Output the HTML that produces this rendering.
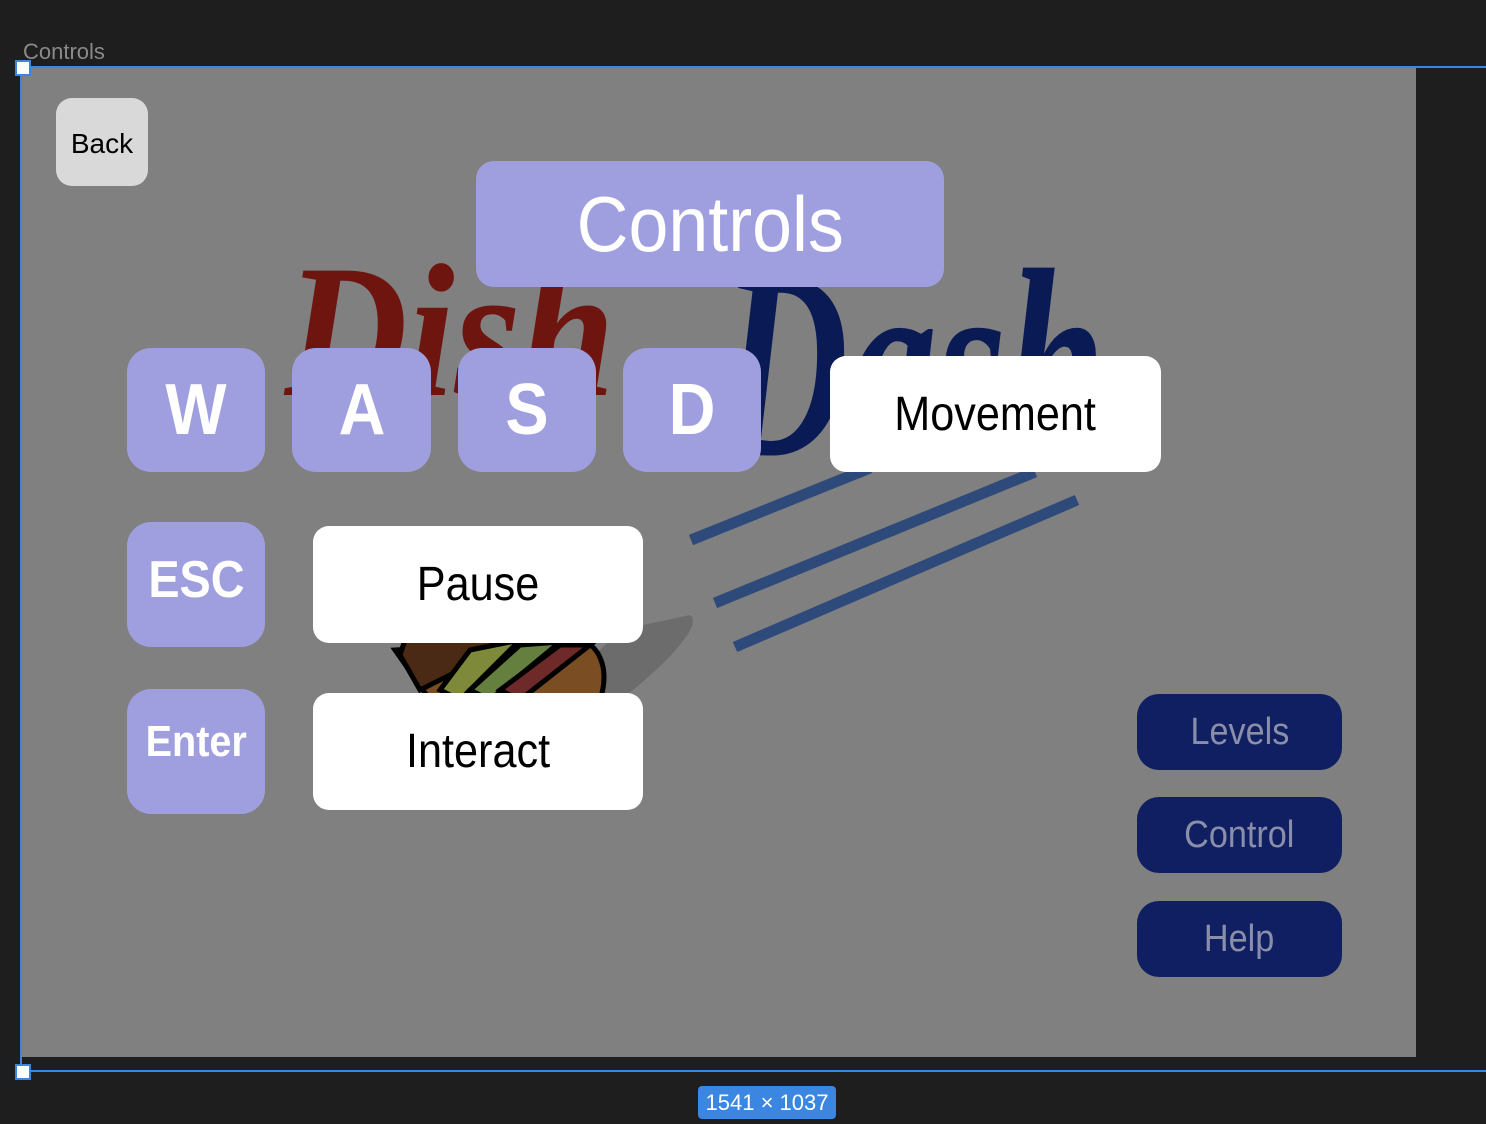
<!DOCTYPE html>
<html><head><meta charset="utf-8"><style>
*{margin:0;padding:0;box-sizing:border-box}
body{width:1486px;height:1124px;background:#1e1e1e;position:relative;overflow:hidden;font-family:"Liberation Sans",sans-serif}
.a{position:absolute}
.c{display:flex;align-items:center;justify-content:center}
.key{background:#9f9fe0;border-radius:24px;color:#fff;font-weight:bold}
.key span,.wb span,.nb span{display:inline-block;transform:scaleX(0.9)}
.wb{background:#fff;border-radius:16px;color:#000;font-size:48px}
.nb{background:#0f1f62;border-radius:22px;color:#8a8ea8;font-size:38px;left:1137px;width:205px;height:76px}
</style></head><body>
<div class="a" style="left:23px;top:39px;font-size:22px;color:#8a8a8a">Controls</div>
<div class="a" style="left:22px;top:68px;width:1394px;height:989px;background:#808080"></div>
<div class="a" style="left:22px;top:66px;width:1464px;height:2px;background:#3b86e0"></div>
<div class="a" style="left:22px;top:1070px;width:1464px;height:2px;background:#3b86e0"></div>
<div class="a" style="left:20px;top:66px;width:2px;height:1006px;background:#3b86e0"></div>
<div class="a" style="left:15px;top:60px;width:16px;height:16px;background:#fff;border:2px solid #3b86e0"></div>
<div class="a" style="left:15px;top:1064px;width:16px;height:16px;background:#fff;border:2px solid #3b86e0"></div>
<div class="a c" style="left:698px;top:1086px;width:138px;height:33px;background:#3b86e0;border-radius:4px;color:#fff;font-size:22px">1541 × 1037</div>

<svg class="a" style="left:0;top:0" width="1486" height="1124">
<text x="285" y="395" font-family="Liberation Serif" font-style="italic" font-weight="bold" font-size="190" fill="#6e1510" textLength="330" lengthAdjust="spacingAndGlyphs">Dish</text>
<text x="720" y="455" font-family="Liberation Serif" font-style="italic" font-weight="bold" font-size="270" fill="#0a1a55" textLength="385" lengthAdjust="spacingAndGlyphs">Dash</text>
<g stroke="#2d4a7a" stroke-width="11">
<line x1="691" y1="540" x2="870" y2="468"/>
<line x1="715" y1="603" x2="1035" y2="472"/>
<line x1="735" y1="647" x2="1077" y2="500"/>
</g>
<path d="M690 615 C705 625 660 670 620 700 L560 690 L620 630 Z" fill="#6c6c6c"/>
<g stroke="#000" stroke-width="5">
<path d="M395 650 L430 700 L600 700 C610 670 600 645 580 640 Z" fill="#7a4d22"/>
<path d="M400 655 L420 690 L520 640 L405 640 Z" fill="#4a2a14"/>
<path d="M440 690 L470 650 L520 640 L460 700 Z" fill="#7e8a3a"/>
<path d="M470 690 L520 645 L560 642 L490 700 Z" fill="#65803e"/>
<path d="M500 690 L560 645 L590 645 L520 700 Z" fill="#6e2a28"/>
</g>
</svg>

<div class="a c" style="left:56px;top:98px;width:92px;height:88px;background:#d9d9d9;border-radius:16px;font-size:28px;color:#000;padding-top:4px">Back</div>
<div class="a c" style="left:476px;top:161px;width:468px;height:126px;background:#9f9fe0;border-radius:18px;color:#fff;font-size:78px"><span style="display:inline-block;transform:scaleX(0.92)">Controls</span></div>

<div class="a c key" style="left:127px;top:348px;width:138px;height:124px;font-size:72px"><span>W</span></div>
<div class="a c key" style="left:292px;top:348px;width:139px;height:124px;font-size:72px"><span>A</span></div>
<div class="a c key" style="left:458px;top:348px;width:138px;height:124px;font-size:72px"><span>S</span></div>
<div class="a c key" style="left:623px;top:348px;width:138px;height:124px;font-size:72px"><span>D</span></div>
<div class="a c key" style="left:127px;top:522px;width:138px;height:125px;font-size:52px;align-items:flex-start;padding-top:28px"><span>ESC</span></div>
<div class="a c key" style="left:127px;top:689px;width:138px;height:125px;font-size:44px;align-items:flex-start;padding-top:28px"><span>Enter</span></div>

<div class="a c wb" style="left:830px;top:356px;width:331px;height:116px"><span>Movement</span></div>
<div class="a c wb" style="left:313px;top:526px;width:330px;height:117px"><span>Pause</span></div>
<div class="a c wb" style="left:313px;top:693px;width:330px;height:117px"><span>Interact</span></div>

<div class="a c nb" style="top:694px"><span>Levels</span></div>
<div class="a c nb" style="top:797px"><span>Control</span></div>
<div class="a c nb" style="top:901px"><span>Help</span></div>
</body></html>
